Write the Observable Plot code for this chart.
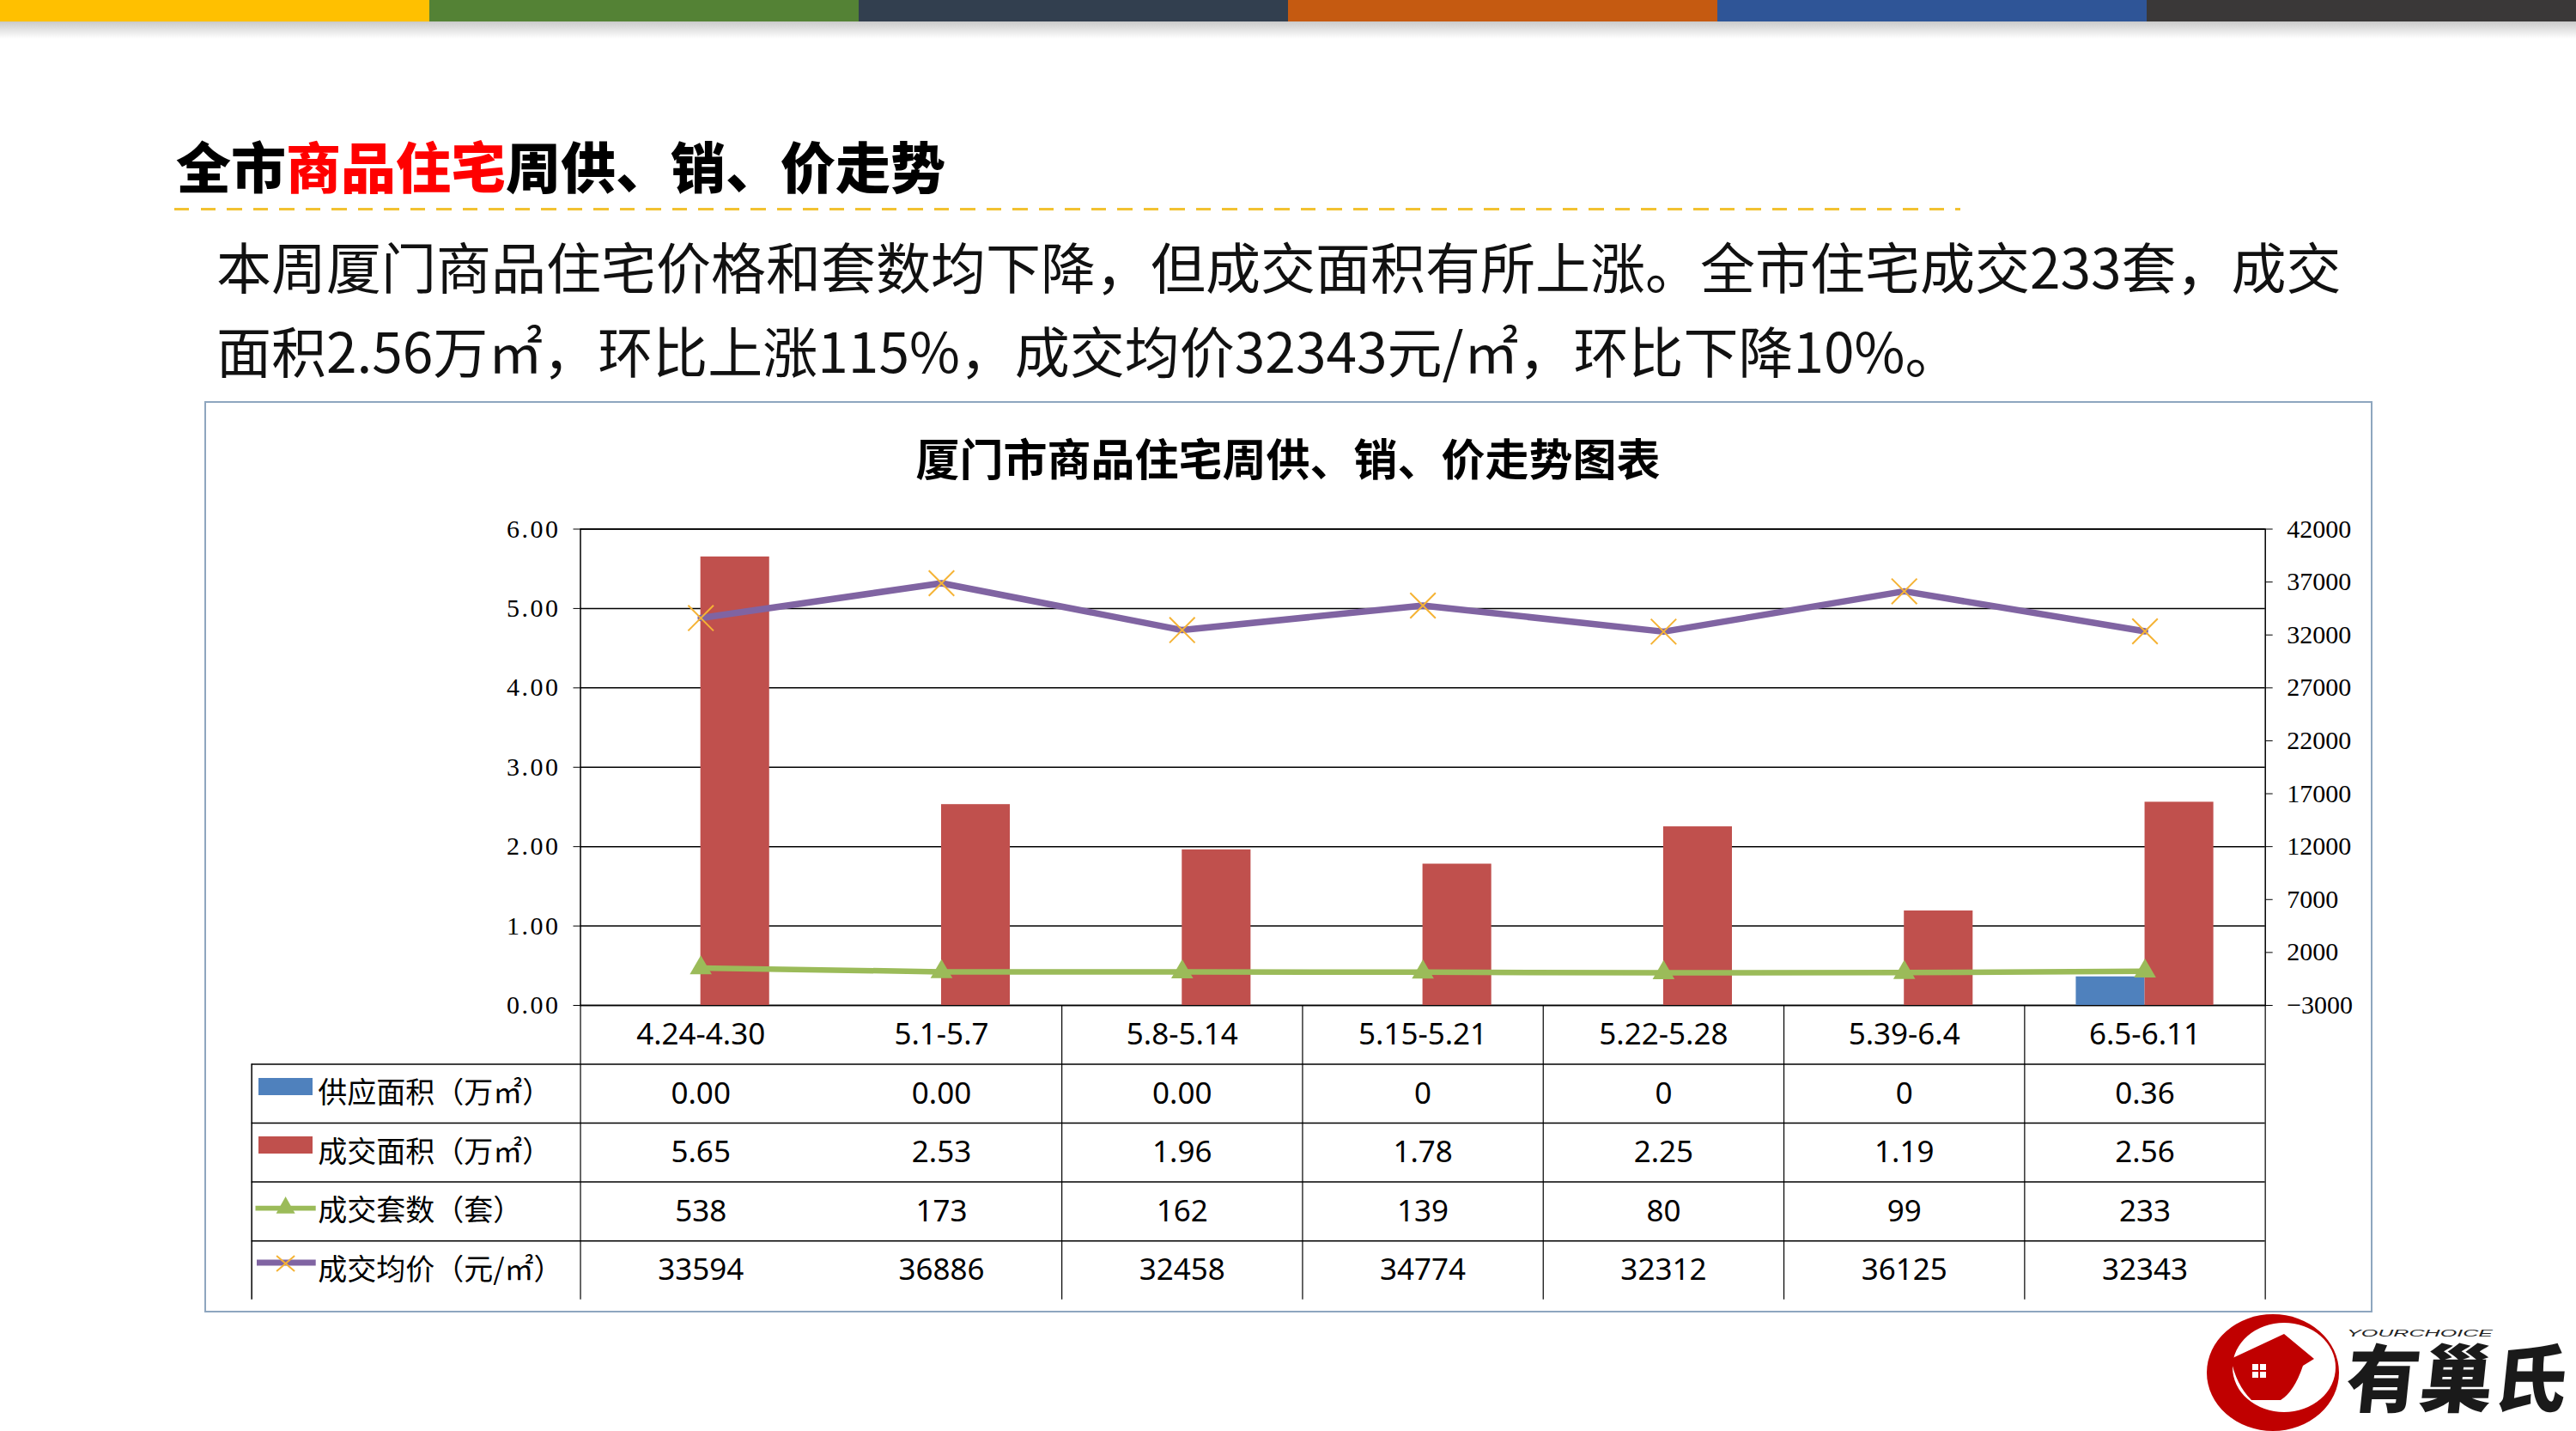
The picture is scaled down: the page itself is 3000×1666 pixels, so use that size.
<!DOCTYPE html>
<html>
<head>
<meta charset="utf-8">
<script src="https://cdn.jsdelivr.net/npm/d3@7"></script>
<script src="https://cdn.jsdelivr.net/npm/@observablehq/plot@0.6"></script>
<style>
html, body { margin: 0; padding: 0; background: #fff; }
#page { position: relative; width: 3000px; height: 1666px; overflow: hidden; background: #fff;
  font-family: "Noto Sans CJK SC", "Noto Sans", sans-serif; color: #000; }
.abs { position: absolute; }
.bar { position: absolute; top: 0; height: 25px; width: 501px; }
#heading { left: 205px; top: 159px; font-size: 64px; line-height: 64px; font-weight: 900; white-space: nowrap; }
#heading .red { color: #FF0000; }
#dash { left: 203px; top: 241.5px; width: 2080px; height: 3px;
  background: repeating-linear-gradient(90deg, #F2C231 0 17.5px, transparent 17.5px 30.5px); }
#para { left: 252px; top: 260px; font-size: 64px; line-height: 97.5px; color: #111; white-space: nowrap; }
#frame { left: 237.6px; top: 467.3px; width: 2525.7px; height: 1061px; box-sizing: border-box; border: 2px solid #8EA6BF; }
#ctitle { left: 0; width: 3000px; top: 507px; text-align: center; font-size: 51px; line-height: 51px; font-weight: 700; white-space: nowrap; }
#chartA { left: 0; top: 580px; }
#chartB { left: 0; top: 1170px; }
</style>
</head>
<body>
<div id="page">
  <div class="bar" style="left:0;height:26px;background:#FFC000"></div>
  <div class="bar" style="left:500px;background:#548235"></div>
  <div class="bar" style="left:1000px;background:#323F4F"></div>
  <div class="bar" style="left:1500px;background:#C55A11"></div>
  <div class="bar" style="left:2000px;background:#2F5597"></div>
  <div class="bar" style="left:2500px;background:#3A3838"></div>
  <div class="abs" style="left:0;top:25px;width:3000px;height:20px;background:linear-gradient(#cacaca, rgba(255,255,255,0))"></div>

  <div id="heading" class="abs">全市<span class="red">商品住宅</span>周供、销、价走势</div>
  <div id="dash" class="abs"></div>
  <div id="para" class="abs">本周厦门商品住宅价格和套数均下降，但成交面积有所上涨。全市住宅成交233套，成交<br>面积2.56万㎡，环比上涨115%，成交均价32343元/㎡，环比下降10%。</div>

  <div id="frame" class="abs"></div>
  <div id="ctitle" class="abs">厦门市商品住宅周供、销、价走势图表</div>

  <div id="chartA" class="abs"></div>
  <div id="chartB" class="abs"></div>

  <svg class="abs" style="left:290px;top:1237px" width="90" height="276">
    <rect x="11" y="18" width="63" height="20" fill="#4F81BD"/>
    <rect x="11" y="86" width="63" height="20" fill="#C0504D"/>
    <line x1="7.5" x2="77.7" y1="169.7" y2="169.7" stroke="#9BBB59" stroke-width="5.7"/>
    <path d="M42.6,156 L53.6,175.7 L31.6,175.7 Z" fill="#9BBB59"/>
    <line x1="9" x2="77.7" y1="233" y2="233" stroke="#8064A2" stroke-width="7"/>
    <path d="M32.1,225 L53.1,243 M32.1,243 L53.1,225" stroke="#F5B335" stroke-width="2" fill="none"/>
  </svg>

  <svg class="abs" style="left:2560px;top:1520px;overflow:visible" width="440" height="140">
    <path fill-rule="evenodd" fill="#C00000"
      d="M10,78 A77,68 0 1,0 164,78 A77,68 0 1,0 10,78 Z M40,72 A60,52 0 1,0 160,72 A60,52 0 1,0 40,72 Z"/>
    <path fill="#C00000" d="M38,62 L100,33 L135,62 L122,70 Q112,100 96,110 L62,110 Q44,92 38,62 Z"/>
    <rect x="63" y="68" width="7" height="7" fill="#fff"/>
    <rect x="72" y="68" width="7" height="7" fill="#fff"/>
    <rect x="63" y="77" width="7" height="7" fill="#fff"/>
    <rect x="72" y="77" width="7" height="7" fill="#fff"/>
    <text x="173" y="36" font-family="Liberation Sans" font-style="italic" font-size="10" textLength="170" lengthAdjust="spacingAndGlyphs" fill="#222">YOURCHOICE</text>
    <text x="170" y="117" font-family="Noto Sans CJK SC" font-weight="900" font-size="86" textLength="257" lengthAdjust="spacingAndGlyphs" fill="#1a1a1a" transform="skewX(-6) translate(12,0)">有巢氏</text>
  </svg>
</div>

<script>
// ---- data ----
const weeks = ["4.24-4.30", "5.1-5.7", "5.8-5.14", "5.15-5.21", "5.22-5.28", "5.39-6.4", "6.5-6.11"];
const supplyArea = [0, 0, 0, 0, 0, 0, 0.36];
const supplyText = ["0.00", "0.00", "0.00", "0", "0", "0", "0.36"];
const soldArea = [5.65, 2.53, 1.96, 1.78, 2.25, 1.19, 2.56];
const soldUnits = [538, 173, 162, 139, 80, 99, 233];
const avgPrice = [33594, 36886, 32458, 34774, 32312, 36125, 32343];
const seriesNames = ["供应面积（万㎡）", "成交面积（万㎡）", "成交套数（套）", "成交均价（元/㎡）"];
const leftDomain = [0, 6];
const leftTicks = [0, 1, 2, 3, 4, 5, 6];
const rightDomain = [-3000, 42000];
const rightTicks = [-3000, 2000, 7000, 12000, 17000, 22000, 27000, 32000, 37000, 42000];

// ---- layout ----
const W = 3000, ML = 675.5, MR = 362.3;
const bw = (W - ML - MR) / weeks.length;
const barW = bw / 3.5;
const legendW = ML - 292.6;

const span = (leftDomain[1] - leftDomain[0]) / (rightDomain[1] - rightDomain[0]);
const toLeft = v => (v - rightDomain[0]) * span + leftDomain[0];
const fromLeft = d => (d - leftDomain[0]) / span + rightDomain[0];
const fmtRight = v => (v < 0 ? "\u2212" + Math.abs(v) : String(v));

const data = weeks.map((w, i) => ({
  week: w, supply: supplyArea[i], sold: soldArea[i], units: soldUnits[i], price: avgPrice[i]
}));

const chart = Plot.plot({
  width: W, height: 610,
  marginLeft: ML, marginRight: MR, marginTop: 35.5, marginBottom: 20,
  style: {background: "transparent", maxWidth: "none", overflow: "visible"},
  x: {type: "band", domain: weeks, padding: 0, round: false, axis: null},
  y: {domain: leftDomain},
  marks: [
    Plot.ruleY(leftTicks, {stroke: "#000", strokeWidth: 1.5}),
    Plot.frame({stroke: "#000", strokeWidth: 1.5}),
    Plot.axisY(leftTicks, {anchor: "left", tickSize: 8, tickPadding: 15.5, label: null,
      tickFormat: d => d.toFixed(2), fontSize: 30, fontFamily: "Liberation Serif", color: "#000"}),
    Plot.axisY(rightTicks.map(toLeft), {anchor: "right", tickSize: 8, tickPadding: 17, label: null,
      tickFormat: d => fmtRight(Math.round(fromLeft(d))), fontSize: 30, fontFamily: "Liberation Serif", color: "#000"}),
    Plot.barY(data, {x: "week", y: "supply", fill: "#4F81BD", insetLeft: bw / 2 - barW, insetRight: bw / 2}),
    Plot.barY(data, {x: "week", y: "sold", fill: "#C0504D", insetLeft: bw / 2, insetRight: bw / 2 - barW}),
    Plot.line(data, {x: "week", y: d => toLeft(d.units), stroke: "#9BBB59", strokeWidth: 6.5}),
    Plot.dot(data, {x: "week", y: d => toLeft(d.units), symbol: "triangle", r: 9.5, fill: "#9BBB59"}),
    Plot.line(data, {x: "week", y: d => toLeft(d.price), stroke: "#8064A2", strokeWidth: 7.5}),
    Plot.dot(data, {x: "week", y: d => toLeft(d.price), symbol: "times", r: 13.5, stroke: "#F5B335", strokeWidth: 2})
  ]
});
// wider spacing for the left-axis numbers, like the original's typeface
const labelGroups = chart.querySelectorAll('g[aria-label="y-axis tick label"]');
if (labelGroups.length) labelGroups[0].setAttribute("letter-spacing", "2.5");
document.getElementById("chartA").appendChild(chart);

// ---- data table ----
const rowsN = seriesNames.length + 1;
const rowsText = [weeks, supplyText, soldArea.map(v => v.toFixed(2)), soldUnits.map(String), avgPrice.map(String)];
const cells = [];
rowsText.forEach((row, r) => row.forEach((t, c) => cells.push({row: r, col: c, text: t})));

const table = Plot.plot({
  width: W, height: 342.7,
  marginLeft: ML, marginRight: MR, marginTop: 0, marginBottom: 0,
  style: {background: "transparent", maxWidth: "none", overflow: "visible"},
  x: {domain: [0, weeks.length], axis: null},
  y: {domain: [0, rowsN], reverse: true, axis: null},
  marks: [
    Plot.ruleY(d3.range(1, rowsN), {insetLeft: -legendW, stroke: "#000", strokeWidth: 1.5}),
    Plot.ruleX(d3.range(0, weeks.length + 1).filter(i => i !== 1), {stroke: "#000", strokeWidth: 1.2}),
    Plot.ruleX([0], {y1: 1, y2: rowsN, dx: -legendW, stroke: "#000", strokeWidth: 1.5}),
    Plot.text(cells, {x: d => d.col + 0.5, y: d => d.row + 0.5, text: "text",
      fontSize: 35, fontFamily: "Noto Sans, Noto Sans CJK SC", fill: "#000"}),
    Plot.text(seriesNames, {frameAnchor: "left", y: (d, i) => i + 1.5, text: d => d, textAnchor: "start",
      dx: 369.8 - ML, fontSize: 34, fontFamily: "Noto Sans CJK SC", fill: "#000"})
  ]
});
document.getElementById("chartB").appendChild(table);
</script>
</body>
</html>
